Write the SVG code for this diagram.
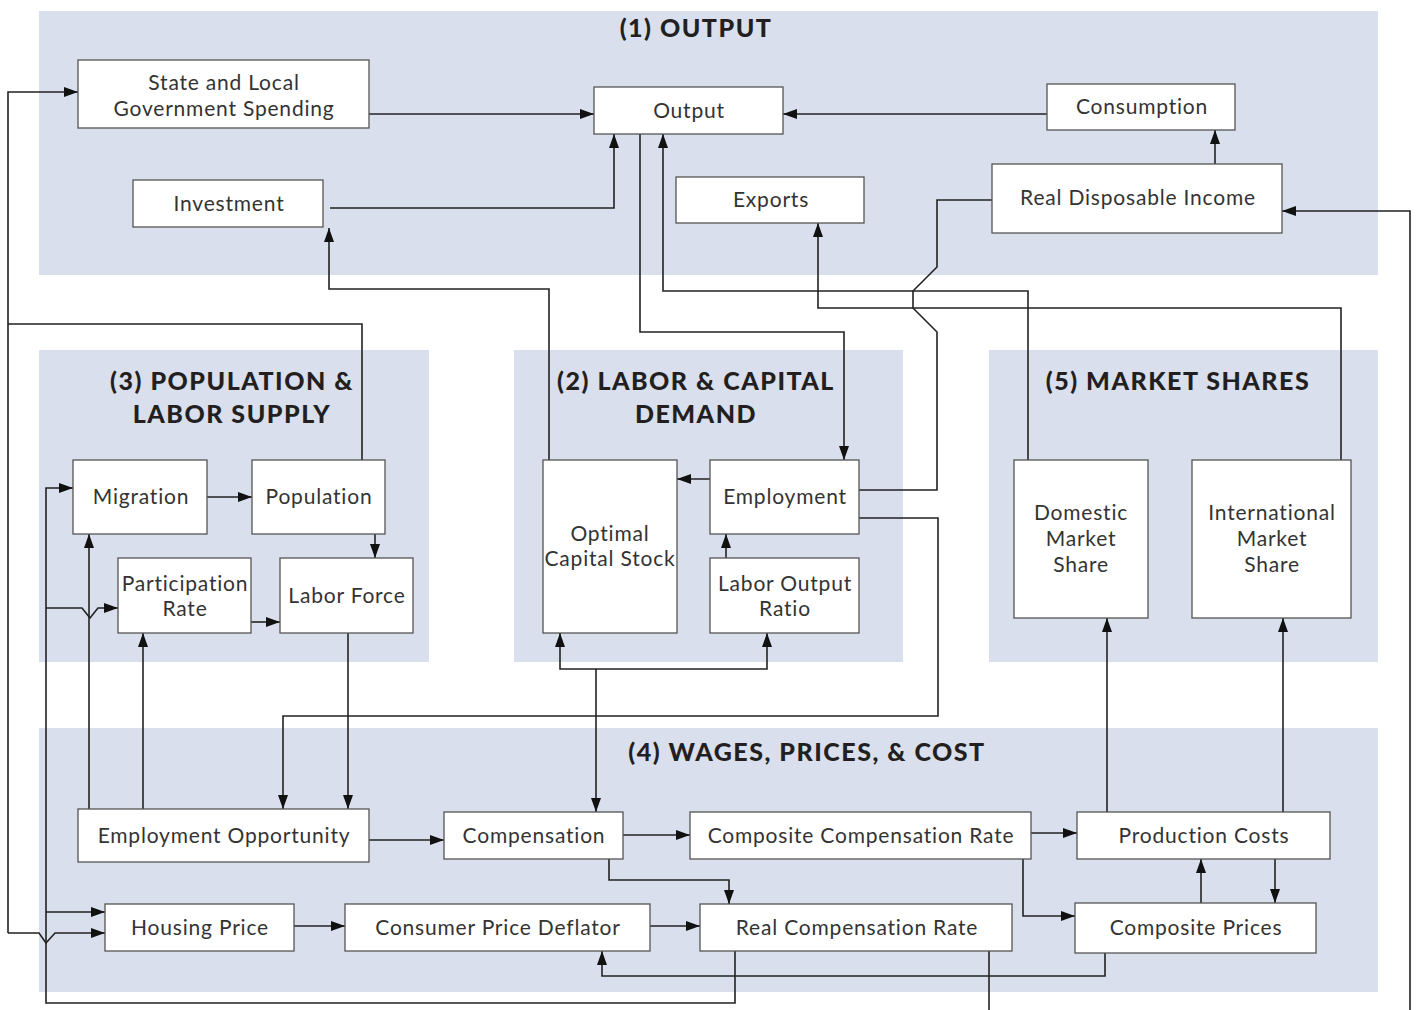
<svg xmlns="http://www.w3.org/2000/svg" width="1417" height="1010" viewBox="0 0 1417 1010">
<style>
.panel{fill:#d9dfec}
.box{fill:#fff;stroke:#555;stroke-width:1.3}
.t{font-family:Lato,"Open Sans",sans-serif;font-size:21px;letter-spacing:0.8px;fill:#333;text-anchor:middle}
.h{font-family:Lato,"Open Sans",sans-serif;font-weight:900;font-size:25px;letter-spacing:1.5px;fill:#231f20;text-anchor:middle}
.c{fill:none;stroke:#222;stroke-width:1.6}
.a{marker-end:url(#ah)}
</style>
<defs>
<marker id="ah" viewBox="0 0 14 10" refX="14" refY="5" markerWidth="14" markerHeight="10" markerUnits="userSpaceOnUse" orient="auto">
<path d="M0,0L14,5L0,10z" fill="#111"/>
</marker>
</defs>
<g id="panels">
<rect class="panel" x="39" y="11" width="1339" height="264"/>
<rect class="panel" x="39" y="350" width="390" height="312"/>
<rect class="panel" x="514" y="350" width="389" height="312"/>
<rect class="panel" x="989" y="350" width="389" height="312"/>
<rect class="panel" x="39" y="728" width="1339" height="264"/>
<text class="h" x="696" y="37">(1) OUTPUT</text>
<text class="h" x="232" y="390">(3) POPULATION &amp;</text>
<text class="h" x="232" y="423">LABOR SUPPLY</text>
<text class="h" x="696" y="390">(2) LABOR &amp; CAPITAL</text>
<text class="h" x="696" y="423">DEMAND</text>
<text class="h" x="1178" y="390">(5) MARKET SHARES</text>
<text class="h" x="807" y="761">(4) WAGES, PRICES, &amp; COST</text>
</g>
<g id="connectors">
<path class="c a" d="M8,933V92H78"/>
<path class="c" d="M8,324H362V460"/>
<path class="c a" d="M8,933H39L46,943L55,933H105"/>
<path class="c a" d="M735,951V1003H46V488H73"/>
<path class="c a" d="M46,912H105"/>
<path class="c a" d="M46,608H82L90,618L98,608H118"/>
<path class="c a" d="M369,114H594"/>
<path class="c a" d="M330,208H614V134"/>
<path class="c a" d="M1047,114H783"/>
<path class="c a" d="M1215,164V130"/>
<path class="c a" d="M1028,460V291H663V134"/>
<path class="c a" d="M1341,460V308H818V223"/>
<path class="c a" d="M640,134V332H844V460"/>
<path class="c" d="M859,490H937V332L913,308V291L937,267V200H992"/>
<path class="c a" d="M1410,1010V211H1282"/>
<path class="c a" d="M549,460V289H329V228"/>
<path class="c a" d="M710,479H677"/>
<path class="c a" d="M726,558V534"/>
<path class="c a" d="M207,497H252"/>
<path class="c a" d="M375,534V558"/>
<path class="c a" d="M251,622H280"/>
<path class="c a" d="M859,518H938V716H283V809"/>
<path class="c a" d="M348,633V809"/>
<path class="c a" d="M89,809V534"/>
<path class="c a" d="M143,809V633"/>
<path class="c a" d="M596,669V812"/>
<path class="c a" d="M596,669H560V633"/>
<path class="c a" d="M596,669H767V633"/>
<path class="c a" d="M369,840H444"/>
<path class="c a" d="M623,835H690"/>
<path class="c a" d="M609,859V880H729V904"/>
<path class="c a" d="M1031,833H1077"/>
<path class="c a" d="M1023,859V916H1075"/>
<path class="c a" d="M1201,903V859"/>
<path class="c a" d="M1275,859V903"/>
<path class="c a" d="M1105,953V976H602V951"/>
<path class="c a" d="M294,926H345"/>
<path class="c a" d="M650,926H700"/>
<path class="c a" d="M1107,812V618"/>
<path class="c a" d="M1283,812V618"/>
<path class="c" d="M989,951V1010"/>
</g>
<g id="n-slg"><rect class="box" x="78" y="60" width="291" height="68"/><text class="t" x="224" y="90">State and Local</text><text class="t" x="224" y="116">Government Spending</text></g>
<g id="n-output"><rect class="box" x="594" y="87" width="189" height="47"/><text class="t" x="689" y="118">Output</text></g>
<g id="n-consumption"><rect class="box" x="1047" y="84" width="188" height="46"/><text class="t" x="1142" y="114">Consumption</text></g>
<g id="n-investment"><rect class="box" x="133" y="180" width="190" height="47"/><text class="t" x="229" y="211">Investment</text></g>
<g id="n-exports"><rect class="box" x="676" y="177" width="188" height="46"/><text class="t" x="771" y="207">Exports</text></g>
<g id="n-rdi"><rect class="box" x="992" y="164" width="290" height="69"/><text class="t" x="1138" y="205">Real Disposable Income</text></g>
<g id="n-migration"><rect class="box" x="73" y="460" width="134" height="74"/><text class="t" x="141" y="504">Migration</text></g>
<g id="n-population"><rect class="box" x="252" y="460" width="133" height="74"/><text class="t" x="319" y="504">Population</text></g>
<g id="n-participation"><rect class="box" x="118" y="558" width="133" height="75"/><text class="t" x="185" y="591">Participation</text><text class="t" x="185" y="616">Rate</text></g>
<g id="n-laborforce"><rect class="box" x="280" y="558" width="133" height="75"/><text class="t" x="347" y="603">Labor Force</text></g>
<g id="n-ocs"><rect class="box" x="543" y="460" width="134" height="173"/><text class="t" x="610" y="541">Optimal</text><text class="t" x="610" y="566">Capital Stock</text></g>
<g id="n-employment"><rect class="box" x="710" y="460" width="149" height="74"/><text class="t" x="785" y="504">Employment</text></g>
<g id="n-lor"><rect class="box" x="710" y="558" width="149" height="75"/><text class="t" x="785" y="591">Labor Output</text><text class="t" x="785" y="616">Ratio</text></g>
<g id="n-dms"><rect class="box" x="1014" y="460" width="134" height="158"/><text class="t" x="1081" y="520">Domestic</text><text class="t" x="1081" y="546">Market</text><text class="t" x="1081" y="572">Share</text></g>
<g id="n-ims"><rect class="box" x="1192" y="460" width="159" height="158"/><text class="t" x="1272" y="520">International</text><text class="t" x="1272" y="546">Market</text><text class="t" x="1272" y="572">Share</text></g>
<g id="n-eo"><rect class="box" x="78" y="809" width="291" height="53"/><text class="t" x="224" y="843">Employment Opportunity</text></g>
<g id="n-comp"><rect class="box" x="444" y="812" width="179" height="47"/><text class="t" x="534" y="843">Compensation</text></g>
<g id="n-ccr"><rect class="box" x="690" y="812" width="341" height="47"/><text class="t" x="861" y="843">Composite Compensation Rate</text></g>
<g id="n-pc"><rect class="box" x="1077" y="812" width="253" height="47"/><text class="t" x="1204" y="843">Production Costs</text></g>
<g id="n-hp"><rect class="box" x="105" y="904" width="189" height="47"/><text class="t" x="200" y="935">Housing Price</text></g>
<g id="n-cpd"><rect class="box" x="345" y="904" width="305" height="47"/><text class="t" x="498" y="935">Consumer Price Deflator</text></g>
<g id="n-rcr"><rect class="box" x="700" y="904" width="312" height="47"/><text class="t" x="857" y="935">Real Compensation Rate</text></g>
<g id="n-cp"><rect class="box" x="1075" y="903" width="241" height="50"/><text class="t" x="1196" y="935">Composite Prices</text></g>
</svg>
